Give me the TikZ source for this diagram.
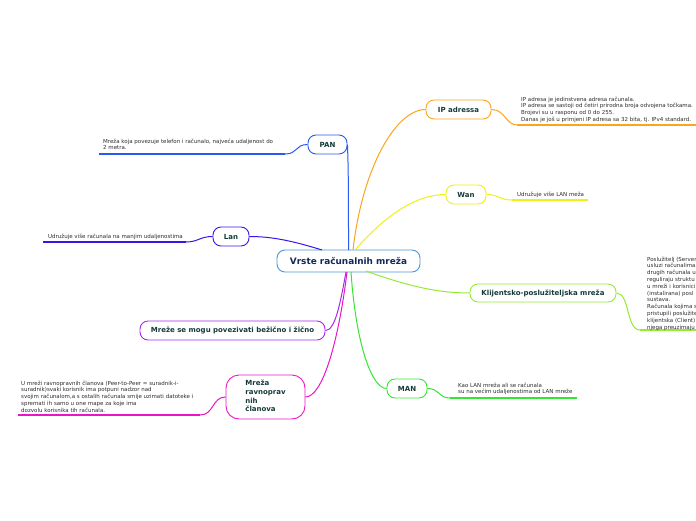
\documentclass[tikz,border=0pt]{standalone}
\usepackage{fontspec}
\setmainfont{DejaVu Sans}
\begin{document}
\begin{tikzpicture}[x=1pt,y=-1pt,
  topic/.style={draw=#1,rounded corners=8pt,fill=white,line width=0.9pt,
    font=\fontsize{7}{8.6}\selectfont\bfseries,text=nodetxt,inner sep=2pt},
  desc/.style={anchor=north west,inner sep=0pt,align=left,text=desctxt,
    font=\fontsize{5.5}{6.8}\selectfont},
  link/.style={draw=#1,line width=1pt},
  uline/.style={draw=#1,line width=1.4pt}]
\definecolor{nodetxt}{RGB}{22,58,58}
\definecolor{centertxt}{RGB}{20,40,90}
\definecolor{desctxt}{RGB}{45,45,45}
\definecolor{cblue}{RGB}{80,150,210}
\definecolor{corange}{RGB}{250,165,30}
\definecolor{cyellow}{RGB}{240,240,20}
\definecolor{clgreen}{RGB}{150,235,50}
\definecolor{cgreen}{RGB}{50,230,50}
\definecolor{cpan}{RGB}{40,90,240}
\definecolor{clan}{RGB}{60,20,235}
\definecolor{cpurple}{RGB}{170,40,235}
\definecolor{cmagenta}{RGB}{235,20,200}

\useasboundingbox[fill=white] (0,0) rectangle (696,520);

% central
\node[draw=cblue,rounded corners=8pt,fill=white,line width=0.9pt,minimum width=143pt,minimum height=22pt,
  font=\fontsize{8.9}{10}\selectfont\bfseries,text=centertxt] (c) at (348.5,261) {Vrste računalnih mreža};

% topics
\node[topic=corange,minimum width=65pt,minimum height=19pt] (ip) at (458.5,109.5) {IP adressa};
\node[topic=cyellow,minimum width=40pt,minimum height=19pt] (wan) at (466,194.5) {Wan};
\node[topic=clgreen,minimum width=146pt,minimum height=18pt] (kl) at (543,293) {Klijentsko-poslužiteljska mreža};
\node[topic=cgreen,minimum width=40pt,minimum height=19pt] (man) at (407,388.5) {MAN};
\node[topic=cpan,minimum width=39pt,minimum height=19pt] (pan) at (327.5,144.5) {PAN};
\node[topic=clan,minimum width=36pt,minimum height=19pt] (lan) at (231,236.5) {Lan};
\node[topic=cpurple,minimum width=185pt,minimum height=19pt] (mog) at (232.5,330.5) {Mreže se mogu povezivati bežično i žično};
\node[topic=cmagenta,minimum width=79pt,minimum height=44pt,rounded corners=13pt,
  font=\fontsize{7}{8.6}\selectfont\bfseries] (rav) at (265.5,397)
  {\begin{tabular}{@{}l@{}}Mreža\\ravnoprav\\nih\\članova\end{tabular}};

% connectors from centre
\coordinate (cn) at (348.5,250);
\coordinate (cs) at (348.5,272);
\draw[link=corange] (353,250) .. controls (362,170) and (395,109.5) .. (ip.west);
\draw[link=cyellow] (355,250) .. controls (390,210) and (420,194.5) .. (wan.west);
\draw[link=clgreen] (366,271) .. controls (410,287) and (440,293) .. (kl.west);
\draw[link=cgreen] (351,272) .. controls (356,345) and (372,388.5) .. (man.west);
\draw[link=cpan] (cn) .. controls (348.5,200) and (348.5,170) .. (pan.east);
\draw[link=clan] (322,250) .. controls (290,240) and (270,236.5) .. (lan.east);
\draw[link=cpurple] (346,272) .. controls (340,305) and (335,330.5) .. (mog.east);
\draw[link=cmagenta] (347,272) .. controls (338,345) and (322,397) .. (rav.east);

% description underlines
\coordinate (ipa) at (517,125); \coordinate (ipb) at (696,125);
\draw[link=corange] (ip.east) .. controls (505,109.5) and (506,125) .. (ipa);
\draw[uline=corange] (ipa) -- (ipb);
\coordinate (wana) at (512,200); \coordinate (wanb) at (588,200);
\draw[link=cyellow] (wan.east) .. controls (498,194.5) and (500,200) .. (wana);
\draw[uline=cyellow] (wana) -- (wanb);
\coordinate (kla) at (640,330); \coordinate (klb) at (696,330);
\draw[link=clgreen] (kl.east) .. controls (630,293) and (626,330) .. (kla);
\draw[uline=clgreen] (kla) -- (klb);
\coordinate (mana) at (450,398); \coordinate (manb) at (577,398);
\draw[link=cgreen] (man.east) .. controls (440,388.5) and (438,398) .. (mana);
\draw[uline=cgreen] (mana) -- (manb);
\coordinate (pana) at (285,154); \coordinate (panb) at (99,154);
\draw[link=cpan] (pan.west) .. controls (295,144.5) and (298,154) .. (pana);
\draw[uline=cpan] (pana) -- (panb);
\coordinate (lana) at (186,242); \coordinate (lanb) at (43,242);
\draw[link=clan] (lan.west) .. controls (200,236.5) and (198,242) .. (lana);
\draw[uline=clan] (lana) -- (lanb);
\coordinate (rava) at (200,415); \coordinate (ravb) at (18,415);
\draw[link=cmagenta] (rav.west) .. controls (212,397) and (214,415) .. (rava);
\draw[uline=cmagenta] (rava) -- (ravb);

% descriptions
\node[desc] (ipd) at (521,96.5) {IP adresa je jedinstvena adresa računala.\\IP adresa se sastoji od četiri prirodna broja odvojena točkama.\\Brojevi su u rasponu od 0 do 255.\\Danas je još u primjeni IP adresa sa 32 bita, tj. IPv4 standard.};
\node[desc] (wand) at (517,191.5) {Udružuje više LAN meža};
\node[desc] (kld) at (647,256.5) {Poslužitelj (Server\\usluzi računalima\\drugih računala u\\reguliraju struktu\\u mreži i korisnici\\(instalirana) posl\\sustava.\\Računala kojima s\\pristupili poslužite\\klijentska (Client)\\njega preuzimaju};
\node[desc] (mand) at (458,382.5) {Kao LAN mreža ali se računala\\su na većim udaljenostima od LAN mreže};
\node[desc] (pand) at (103,138.5) {Mreža koja povezuje telefon i računalo, najveća udaljenost do\\2 metra.};
\node[desc] (land) at (48,233.5) {Udružuje više računala na manjim udaljenostima};
\node[desc] (ravd) at (21,380.5) {U mreži ravnopravnih članova (Peer-to-Peer = suradnik-i-\\suradnik)svaki korisnik ima potpuni nadzor nad\\svojim računalom,a s ostalih računala smije uzimati datoteke i\\spremati ih samo u one mape za koje ima\\dozvolu korisnika tih računala.};
\end{tikzpicture}
\end{document}
